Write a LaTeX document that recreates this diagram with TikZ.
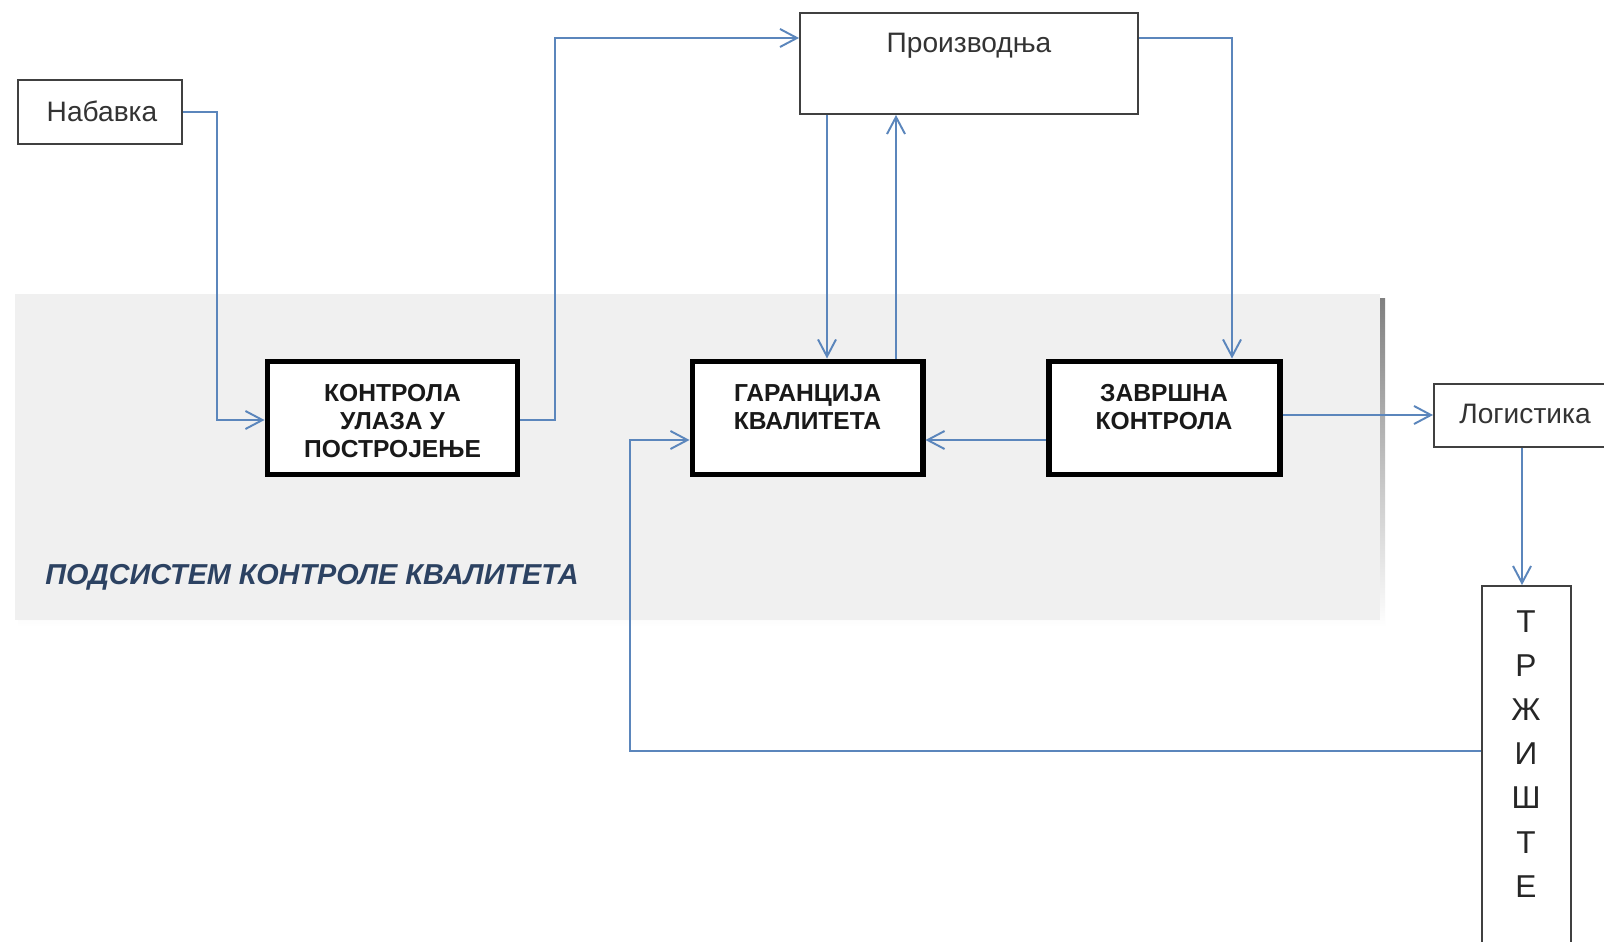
\documentclass[tikz,border=0pt]{standalone}
\usepackage{fontspec}
\setmainfont{Liberation Sans}
\usetikzlibrary{arrows.meta,calc}
\definecolor{connc}{HTML}{5B86BC}
\definecolor{boxline}{HTML}{404040}
\definecolor{txt}{HTML}{333333}
\definecolor{region}{HTML}{F0F0F0}
\definecolor{shade}{HTML}{BDBDBD}
\definecolor{labelc}{HTML}{2C4262}
\newcommand{\upx}{0.02cm}
\begin{document}
\begin{tikzpicture}[x=0.02cm,y=-0.02cm,
  thinbox/.style={draw=boxline, line width=1.1pt, fill=white, inner sep=0pt},
  thickbox/.style={draw=black, line width=3.4pt, fill=white, inner sep=0pt},
  plain/.style={text=txt, font=\fontsize{16}{19}\selectfont, inner sep=0pt},
  boldtxt/.style={text=black!90, font=\fontsize{14}{16}\selectfont\bfseries, align=center, inner sep=0pt},
  arr/.style={draw=connc, line width=1.1pt, -{Straight Barb[length=0.34cm,width=0.36cm,line width=1.1pt]}},
  wire/.style={draw=connc, line width=1.1pt}
]
\useasboundingbox (0,0) rectangle (1604,942);
\clip (0,0) rectangle (1604,942);
\fill[white] (0,0) rectangle (1604,942);

% subsystem region
\fill[shade] (18,298) rectangle (1385,627);
\fill[region] (15,294) rectangle (1380,620);
\node[text=labelc, font=\fontsize{16.4}{19}\selectfont\bfseries\itshape, anchor=west, inner sep=0pt] (sub) at (45,577) {ПОДСИСТЕМ КОНТРОЛЕ КВАЛИТЕТА};

% thin boxes
\node[thinbox, minimum width=164*\upx, minimum height=64*\upx] (nab) at (100,112) {};
\node[plain] (nabt) at (102,111) {Набавка};
\node[thinbox, minimum width=338*\upx, minimum height=101*\upx] (pro) at (969,63.5) {};
\node[plain] (prot) at (969,46) {Производња};
\node[thinbox, minimum width=172*\upx, minimum height=63*\upx] (log) at (1520,415.5) {};
\node[plain] (logt) at (1525,414) {Логистика};
\node[thinbox, minimum width=89*\upx, minimum height=380*\upx] (trz) at (1526.5,776) {};
\node[text=black!85, font=\fontsize{18}{25.1}\selectfont, align=center, inner sep=0pt] (trzt) at (1526,754) {Т\\Р\\Ж\\И\\Ш\\Т\\Е};

% thick boxes
\node[thickbox, minimum width=250*\upx, minimum height=113*\upx] (kon) at (392.5,418) {};
\node[boldtxt] (kont) at (392.5,421) {КОНТРОЛА\\УЛАЗА У\\ПОСТРОЈЕЊЕ};
\node[thickbox, minimum width=230*\upx, minimum height=113*\upx] (gar) at (807.5,418) {};
\node[boldtxt] (gart) at (807.5,407) {ГАРАНЦИЈА\\КВАЛИТЕТА};
\node[thickbox, minimum width=231*\upx, minimum height=113*\upx] (zav) at (1164,418) {};
\node[boldtxt] (zavt) at (1164,407) {ЗАВРШНА\\КОНТРОЛА};

% junction coordinates
\coordinate (j1) at (217,420);
\coordinate (j2) at (555,38);
\coordinate (j3) at (827,0);
\coordinate (j4) at (896,0);
\coordinate (j5) at (1232,38);
\coordinate (j6) at (0,440);
\coordinate (j7) at (0,415);
\coordinate (j8) at (1522,0);
\coordinate (j9) at (630,751);

% connectors
\draw[arr] (nab.east) -| (j1) -- (j1 -| kon.west);
\draw[arr] (kon.east |- j1) -| (j2) -- (j2 -| pro.west);
\draw[arr] (pro.south -| j3) -- (gar.north -| j3);
\draw[arr] (gar.north -| j4) -- (pro.south -| j4);
\draw[arr] (j2 -| pro.east) -- (j5) -- (zav.north -| j5);
\draw[arr] (zav.west |- j6) -- (gar.east |- j6);
\draw[arr] (zav.east |- j7) -- (log.west |- j7);
\draw[arr] (log.south -| j8) -- (trz.north -| j8);
\draw[arr] (trz.west |- j9) -- (j9) |- (gar.west |- j6);
\end{tikzpicture}
\end{document}
